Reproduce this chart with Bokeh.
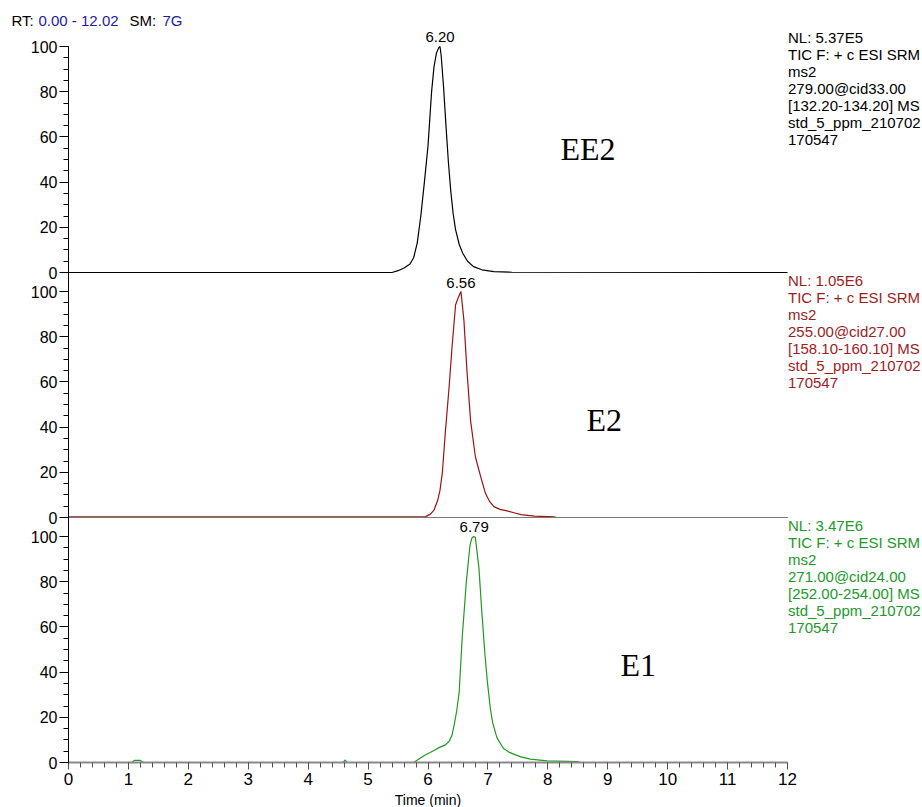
from bokeh.plotting import figure
from bokeh.models import (Range1d, Label, SingleIntervalTicker, FixedTicker,
                          CustomJSTickFormatter)
from bokeh.layouts import column, row
from bokeh.embed import file_html
from bokeh.resources import INLINE

# ---------------- data ----------------
ee2_t = [0.00, 5.40, 5.50, 5.60, 5.70, 5.76, 5.82, 5.88, 5.94, 6.00, 6.06, 6.10, 6.14, 6.18, 6.20,
         6.22, 6.26, 6.30, 6.34, 6.38, 6.42, 6.46, 6.52, 6.58, 6.66, 6.76, 6.90, 7.10, 7.40, 12.00]
ee2_y = [0.0, 0.0, 0.8, 2.0, 3.8, 6.5, 13.0, 25.0, 40.0, 56.0, 80.0, 91.0, 97.0, 99.5, 100.0,
         96.0, 82.0, 65.0, 49.0, 36.0, 26.0, 19.0, 12.5, 8.5, 5.0, 2.6, 1.2, 0.4, 0.1, 0.0]

e2_t = [0.00, 5.90, 5.96, 6.04, 6.10, 6.16, 6.20, 6.24, 6.29, 6.35, 6.40, 6.46, 6.50, 6.55, 6.60,
        6.65, 6.71, 6.79, 6.88, 6.96, 7.03, 7.10, 7.20, 7.32, 7.45, 7.55, 7.78, 8.10, 8.15, 12.00]
e2_y = [0.3, 0.3, 0.4, 1.5, 3.3, 7.5, 12.0, 20.0, 38.0, 57.0, 75.0, 94.0, 97.0, 100.0, 87.0,
        65.0, 43.0, 27.0, 18.0, 10.6, 7.0, 4.8, 3.6, 2.9, 2.0, 1.3, 0.6, 0.3, 0.0, 0.0]

e1_t = [0.00, 1.05, 1.10, 1.20, 1.25, 4.58, 4.62, 4.65, 5.76, 5.85, 5.93, 6.02, 6.10, 6.20, 6.29,
        6.35, 6.40, 6.44, 6.48, 6.52, 6.57, 6.64, 6.70, 6.73, 6.76, 6.79, 6.85, 6.90, 6.95, 6.99,
        7.04, 7.08, 7.15, 7.26, 7.35, 7.43, 7.55, 7.71, 7.99, 8.49, 8.55, 12.00]
e1_y = [0.0, 0.0, 0.9, 0.9, 0.0, 0.0, 1.1, 0.0, 0.0, 1.5, 3.0, 4.2, 5.3, 6.8, 7.8,
        9.3, 12.0, 17.0, 23.0, 31.0, 55.0, 80.0, 96.0, 99.2, 100.0, 99.6, 86.0, 66.0, 48.0, 36.0,
        24.0, 17.5, 11.0, 6.2, 4.6, 3.7, 2.5, 1.5, 0.7, 0.4, 0.0, 0.0]

compounds = ["EE2", "E2", "E1"]
peak_rt = ["6.20", "6.56", "6.79"]
peak_rt_pos = [6.20, 6.55, 6.77]

info_ee2 = ["NL: 5.37E5", "TIC F: + c ESI SRM", "ms2", "279.00@cid33.00",
            "[132.20-134.20]  MS", "std_5_ppm_210702", "170547"]
info_e2 = ["NL: 1.05E6", "TIC F: + c ESI SRM", "ms2", "255.00@cid27.00",
           "[158.10-160.10]  MS", "std_5_ppm_210702", "170547"]
info_e1 = ["NL: 3.47E6", "TIC F: + c ESI SRM", "ms2", "271.00@cid24.00",
           "[252.00-254.00]  MS", "std_5_ppm_210702", "170547"]

header_parts = [("RT:", "black"), ("0.00 - 12.02", "#1c1ca0"), ("SM:", "black"), ("7G", "#1c1ca0")]

y_tick_values = [0, 20, 40, 60, 80, 100]
y_tick_labels = ["0", "20", "40", "60", "80", "100"]
y_minor_values = [0, 5, 10, 15, 20, 25, 30, 35, 40, 45, 50, 55, 60, 65, 70, 75, 80, 85, 90, 95, 100]
x_axis_bounds = (0, 12)
x_title = "Time (min)"

# ---------------- geometry ----------------
W = 922
HEADER_H = 28
FOOTER_H = 16
LEFT = 68
AXIS_Y = 762           # global pixel row of the x axis
PXX = (787 - LEFT) / 12.0
S = 2.26               # px per intensity unit
GAP = 245              # px between panel baselines
FONT = "Liberation Sans"
SERIF = "Liberation Serif"
BASE_SHIFT = 0.33      # renderer places 'alphabetic' text lower; compensate (em)

main_h = 807 - HEADER_H - FOOTER_H
main_bottom_border = (HEADER_H + main_h) - AXIS_Y
frame_h = AXIS_Y - HEADER_H
y_end = frame_h / S
x_end = (W - LEFT) / PXX

offsets = {"ee2": 2 * GAP / S, "e2": GAP / S, "e1": 0.0}
names = ["ee2", "e2", "e1"]


def ymain(py, size):
    return (AXIS_Y - (py - BASE_SHIFT * size)) / S


def px2x(px):
    return (px - LEFT) / PXX


def bare_fig(w, h, xr, yr):
    f = figure(width=w, height=h, output_backend="svg", toolbar_location=None,
               x_range=xr, y_range=yr, x_axis_location=None, y_axis_location=None,
               min_border=0, min_border_left=0, min_border_right=0,
               min_border_top=0, min_border_bottom=0)
    f.outline_line_color = None
    f.grid.visible = False
    return f


# ---------------- header ----------------
head = bare_fig(W, HEADER_H, Range1d(0, W), Range1d(HEADER_H, 0))
for (txt, col), x in zip(header_parts, [11, 38, 129, 162]):
    head.add_layout(Label(x=x, y=24.7 - BASE_SHIFT * 15, text=txt, text_font=FONT,
                          text_font_size="15px", text_color=col, text_align="left",
                          text_baseline="alphabetic"))

# ---------------- main ----------------
p = figure(width=W, height=main_h, output_backend="svg", toolbar_location=None,
           x_range=Range1d(0, x_end), y_range=Range1d(0, y_end),
           min_border_left=LEFT, min_border_right=0, min_border_top=0,
           min_border_bottom=main_bottom_border)
p.outline_line_color = None
p.grid.visible = False
p.extra_y_ranges = {n: Range1d(-offsets[n], y_end - offsets[n]) for n in names}

ya = p.yaxis[0]
majors = sorted(offsets[n] + v for n in names for v in y_tick_values)
minors = sorted(offsets[n] + v for n in names for v in y_minor_values)
ya.ticker = FixedTicker(ticks=majors, minor_ticks=minors)
ya.formatter = CustomJSTickFormatter(args=dict(labels=y_tick_labels),
                                     code="return labels[index % labels.length]")
ya.bounds = (0, offsets["ee2"] + 100)
ya.major_tick_out = 9
ya.major_tick_in = 0
ya.minor_tick_out = 5
ya.minor_tick_in = 0
ya.major_label_standoff = 2
ya.axis_line_color = "black"
ya.major_tick_line_color = "black"
ya.minor_tick_line_color = "black"
ya.major_label_text_font = FONT
ya.major_label_text_font_size = "16px"
ya.major_label_text_color = "black"

xa = p.xaxis[0]
xa.ticker = SingleIntervalTicker(interval=1, num_minor_ticks=5)
xa.bounds = x_axis_bounds
xa.major_tick_out = 7
xa.major_tick_in = 0
xa.minor_tick_out = 5
xa.minor_tick_in = 0
xa.axis_line_color = "#8a8a8a"
xa.axis_line_width = 2
xa.major_tick_line_color = "#505050"
xa.minor_tick_line_color = "#505050"
xa.major_label_text_font = FONT
xa.major_label_text_font_size = "17px"
xa.major_label_text_color = "black"
xa.major_label_standoff = 3

traces = [(ee2_t, ee2_y, "black"), (e2_t, e2_y, "#9b1414"), (e1_t, e1_y, "#1f9a1f")]
infos = [info_ee2, info_e2, info_e1]
info_colors = ["black", "#a01c1c", "#22992a"]
info_first_baseline = [41.6, 284.8, 529.6]
peak_baseline = [41.8, 287.0, 531.2]
big_pos = [(560, 159), (586, 430), (620, 675)]

for i, n in enumerate(names):
    t, y, c = traces[i]
    p.line(t, y, line_color=c, line_width=1.2, y_range_name=n)
    if n == "e2":
        p.line(list(x_axis_bounds), [0, 0], line_color="#7a7a7a", line_width=1.0, y_range_name=n)
    p.add_layout(Label(x=peak_rt_pos[i], y=ymain(peak_baseline[i], 15), text=peak_rt[i],
                       text_font=FONT, text_font_size="15px", text_color="black",
                       text_align="center", text_baseline="alphabetic"))
    for k, line in enumerate(infos[i]):
        p.add_layout(Label(x=x_axis_bounds[1], x_offset=0.5,
                           y=ymain(info_first_baseline[i] + 17.1 * k, 15),
                           text=line, text_font=FONT, text_font_size="15px",
                           text_color=info_colors[i], text_align="left",
                           text_baseline="alphabetic"))
    bx, by = big_pos[i]
    p.add_layout(Label(x=px2x(bx), y=ymain(by, 32), text=compounds[i],
                       text_font=SERIF, text_font_size="32px", text_color="black",
                       text_align="left", text_baseline="alphabetic"))

# ---------------- footer (x-axis title) ----------------
foot_top = HEADER_H + main_h
foot = bare_fig(W, FOOTER_H, Range1d(0, W), Range1d(FOOTER_H, 0))
foot.add_layout(Label(x=(LEFT + 787) / 2, y=(803.9 - foot_top) - BASE_SHIFT * 14, text=x_title,
                      text_font=FONT, text_font_size="14px", text_color="black",
                      text_align="center", text_baseline="alphabetic"))

layout = column(row(head), p, row(foot), spacing=0)
open("out.html", "w").write(file_html(layout, INLINE))
